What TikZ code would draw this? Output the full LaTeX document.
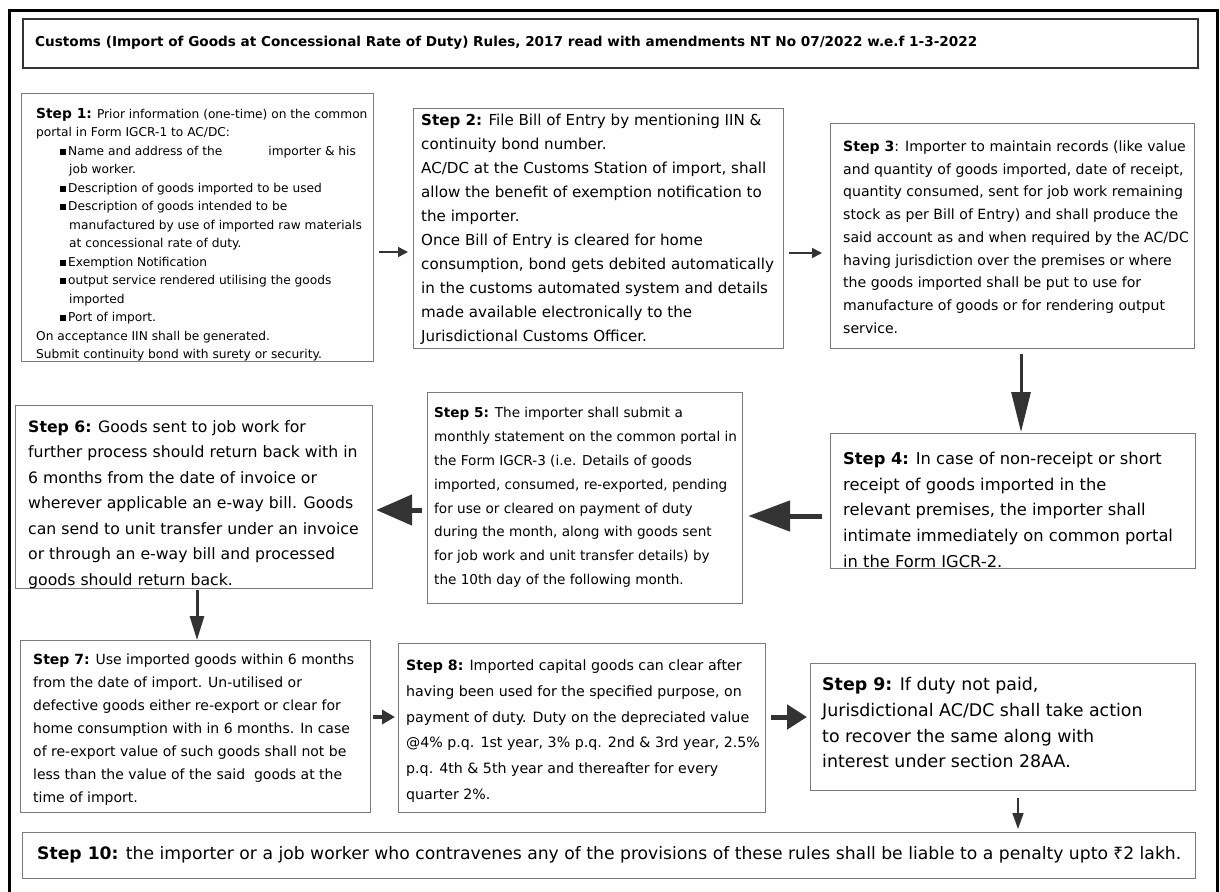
\documentclass[tikz,border=0pt]{standalone}
\usepackage{fontspec}
\setmainfont{DejaVu Sans}
\newfontfamily\rupeefont{Noto Sans}
\usetikzlibrary{arrows.meta}
\definecolor{boxgray}{HTML}{7A7A7A}
\definecolor{arrdark}{HTML}{333333}
\newcommand{\fsz}[2]{\fontsize{#1}{#2}\selectfont}
\newcommand{\bul}{\hspace*{24pt}\raisebox{0.5pt}{\rule{6pt}{6pt}}\hspace{2pt}}
\newcommand{\cont}{\hspace*{33pt}}
\begin{document}
\begin{tikzpicture}[x=1pt,y=-1pt,
  stepbox/.style={draw=boxgray, line width=1.2pt, fill=white, inner sep=0pt, anchor=north west},
  titlebox/.style={draw=arrdark, line width=2.2pt, inner sep=0pt, anchor=north west},
  txt/.style={inner sep=0pt, anchor=north west, align=left, text=black},
  arrthin/.style={draw=arrdark, line width=1.6pt, -{Triangle[length=10pt,width=10pt]}},
]
\useasboundingbox[fill=white] (0,0) rectangle (1220,891);
% outer frame
\draw[black, line width=3pt] (9,905) -- (9,11) -- (1217,11) -- (1217,905);

% title
\node[titlebox, minimum width=1175pt, minimum height=49pt] (title) at (22,18) {};
\node[txt, font=\fsz{13.6}{16}\bfseries] (ttitle) at (35,35.6) {\strut Customs (Import of Goods at Concessional Rate of Duty) Rules, 2017 read with amendments NT No 07/2022 w.e.f 1-3-2022};

% boxes
\node[stepbox, minimum width=352pt, minimum height=268pt] (s1) at (21,93) {};
\node[stepbox, minimum width=370pt, minimum height=240pt] (s2) at (413,108) {};
\node[stepbox, minimum width=364pt, minimum height=225pt] (s3) at (830,123) {};
\node[stepbox, minimum width=365pt, minimum height=135pt] (s4) at (830,433) {};
\node[stepbox, minimum width=315pt, minimum height=211pt] (s5) at (427,392) {};
\node[stepbox, minimum width=357pt, minimum height=183pt] (s6) at (15,405) {};
\node[stepbox, minimum width=350pt, minimum height=172pt] (s7) at (20,640) {};
\node[stepbox, minimum width=367pt, minimum height=169pt] (s8) at (398,643) {};
\node[stepbox, minimum width=385pt, minimum height=127pt] (s9) at (810,663) {};
\node[stepbox, minimum width=1173pt, minimum height=46pt] (s10) at (22,832) {};

% texts
\node[txt, font=\fsz{12.2}{18.5}] (t1) at (36,105) {\strut{\fsz{13.8}{18.5}\bfseries Step 1:} Prior information (one-time) on the common\\
portal in Form IGCR-1 to AC/DC:\\
\bul Name and address of the\hspace{46pt}importer \& his\\
\cont job worker.\\
\bul Description of goods imported to be used\\
\bul Description of goods intended to be\\
\cont manufactured by use of imported raw materials\\
\cont at concessional rate of duty.\\
\bul Exemption Notification\\
\bul output service rendered utilising the goods\\
\cont imported\\
\bul Port of import.\\
On acceptance IIN shall be generated.\\
Submit continuity bond with surety or security.};

\node[txt, font=\fsz{15.1}{24}] (t2) at (421,108.6) {\strut\textbf{Step 2:} File Bill of Entry by mentioning IIN \&\\
continuity bond number.\\
AC/DC at the Customs Station of import, shall\\
allow the benefit of exemption notification to\\
the importer.\\
Once Bill of Entry is cleared for home\\
consumption, bond gets debited automatically\\
in the customs automated system and details\\
made available electronically to the\\
Jurisdictional Customs Officer.};

\node[txt, font=\fsz{14.1}{22.75}] (t3) at (843,135.3) {\strut\textbf{Step 3}: Importer to maintain records (like value\\
and quantity of goods imported, date of receipt,\\
quantity consumed, sent for job work remaining\\
stock as per Bill of Entry) and shall produce the\\
said account as and when required by the AC/DC\\
having jurisdiction over the premises or where\\
the goods imported shall be put to use for\\
manufacture of goods or for rendering output\\
service.};

\node[txt, font=\fsz{16.3}{25.7}] (t4) at (843,446.4) {\strut\textbf{Step 4:} In case of non-receipt or short\\
receipt of goods imported in the\\
relevant premises, the importer shall\\
intimate immediately on common portal\\
in the Form IGCR-2.};

\node[txt, font=\fsz{13.6}{23.9}] (t5) at (434,400.5) {\strut\textbf{Step 5:} The importer shall submit a\\
monthly statement on the common portal in\\
the Form IGCR-3 (i.e. Details of goods\\
imported, consumed, re-exported, pending\\
for use or cleared on payment of duty\\
during the month, along with goods sent\\
for job work and unit transfer details) by\\
the 10th day of the following month.};

\node[txt, font=\fsz{15.7}{25.5}] (t6) at (28,414.3) {\strut\textbf{Step 6:} Goods sent to job work for\\
further process should return back with in\\
6 months from the date of invoice or\\
wherever applicable an e-way bill. Goods\\
can send to unit transfer under an invoice\\
or through an e-way bill and processed\\
goods should return back.};

\node[txt, font=\fsz{14}{23}] (t7) at (33,647.7) {\strut\textbf{Step 7:} Use imported goods within 6 months\\
from the date of import. Un-utilised or\\
defective goods either re-export or clear for\\
home consumption with in 6 months. In case\\
of re-export value of such goods shall not be\\
less than the value of the said\ \ goods at the\\
time of import.};

\node[txt, font=\fsz{14.2}{25.8}] (t8) at (406,652.2) {\strut\textbf{Step 8:} Imported capital goods can clear after\\
having been used for the specified purpose, on\\
payment of duty. Duty on the depreciated value\\
@4\% p.q. 1st year, 3\% p.q. 2nd \& 3rd year, 2.5\%\\
p.q. 4th \& 5th year and thereafter for every\\
quarter 2\%.};

\node[txt, font=\fsz{17.4}{25.7}] (t9) at (822,672.6) {\strut\textbf{Step 9:} If duty not paid,\\
Jurisdictional AC/DC shall take action\\
to recover the same along with\\
interest under section 28AA.};

\node[txt, font=\fsz{17.2}{20}] (t10) at (37,845.7) {\strut\textbf{Step 10:} the importer or a job worker who contravenes any of the provisions of these rules shall be liable to a penalty upto {\rupeefont ₹}2 lakh.};

% connectors
\draw[arrthin, shorten <=5pt, shorten >=5pt] (s1.east |- 0,252) -- (s2.west |- 0,252);
\draw[arrthin, shorten <=5pt, shorten >=8pt] (s2.east |- 0,253) -- (s3.west |- 0,253);
\draw[draw=arrdark, line width=3pt, -{Triangle[length=40pt,width=19pt]}, shorten <=5pt, shorten >=1pt] (s3.south -| 1021,0) -- (s4.north -| 1021,0);
\draw[draw=arrdark, line width=5pt, -{Triangle[length=42pt,width=30pt]}, shorten <=8pt, shorten >=5pt] (s4.west |- 0,516) -- (s5.east |- 0,516);
\draw[draw=arrdark, line width=5pt, -{Triangle[length=36pt,width=30pt]}, shorten <=5pt, shorten >=3pt] (s5.west |- 0,510) -- (s6.east |- 0,510);
\draw[draw=arrdark, line width=3pt, -{Triangle[length=24pt,width=14pt]}, shorten <=1pt, shorten >=0pt] (s6.south -| 197,0) -- (s7.north -| 197,0);
\draw[draw=arrdark, line width=4pt, -{Triangle[length=13pt,width=14pt]}, shorten <=2pt, shorten >=3pt] (s7.east |- 0,717) -- (s8.west |- 0,717);
\draw[draw=arrdark, line width=5pt, -{Triangle[length=20pt,width=24pt]}, shorten <=5pt, shorten >=3pt] (s8.east |- 0,717) -- (s9.west |- 0,717);
\draw[draw=arrdark, line width=1.6pt, -{Triangle[length=16pt,width=11pt]}, shorten <=7pt, shorten >=3pt] (s9.south -| 1018,0) -- (s10.north -| 1018,0);
\end{tikzpicture}
\end{document}
